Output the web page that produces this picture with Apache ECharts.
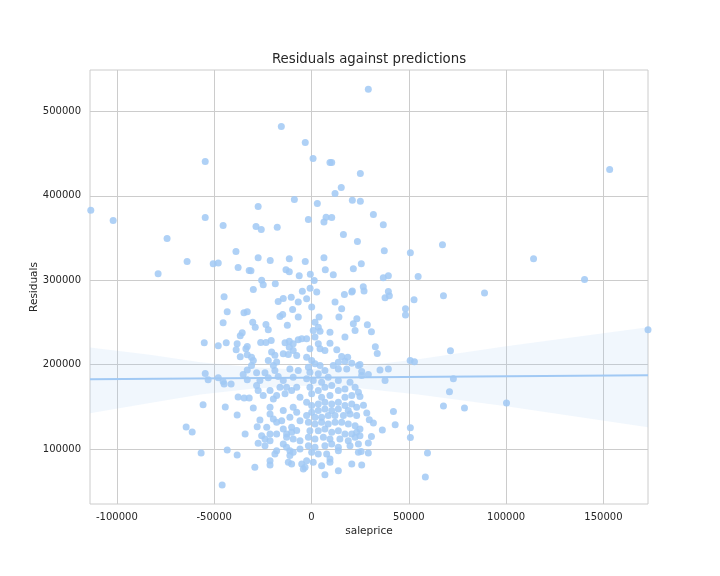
<!DOCTYPE html>
<html>
<head>
<meta charset="utf-8">
<script src="https://cdn.jsdelivr.net/npm/echarts@6/dist/echarts.min.js"></script>
<style>html,body{margin:0;padding:0;background:#fff;}#chart{width:720px;height:576px;}</style>
</head>
<body>
<div id="chart"></div>
<script>
// Scatter points: [saleprice, residual]
const points = [
[-54600,440700],[-113400,382900],[-101900,370700],[-54600,374300],[-45400,364800],[-74200,349400],[-38800,334000],[-63900,322100],[-50500,319700],[-47900,320400],[-78800,307800],[-37700,315000],[-32000,311700],
[-15500,482200],[-3200,463200],[800,444200],[9500,439500],[-8800,395600],[3000,390900],[-27400,387300],[-1600,371900],[7500,374600],[6400,369000],[-28500,363600],[-25800,360000],[-17600,362800],[-27400,326800],[-21200,323300],[-11400,325600],[-3200,322100],[6400,326800],[-31100,311400],[-13100,312600],[-11400,310200],[-6300,305500],[-600,307000],[7100,312600],[-25600,299900],[-24800,294800],[-18600,296000],[1400,299800],[-29900,289200],[-4700,287000],[-700,290500],
[29200,526100],[10400,439500],[25100,426500],[15300,409900],[12100,402700],[21000,394800],[25100,393600],[10400,374300],[31800,377800],[36900,365900],[16400,354100],[23600,345800],[37400,335100],[50800,332700],[25600,319700],[21500,313800],[11200,306600],[36900,303100],[39500,305500],[54800,304500],[26600,292400],[21000,287200],
[153200,431200],[67300,342200],[114100,325600],[140300,300900],[88900,285000],
[67800,281700],[71400,216500],[172900,241400],[72900,183300],[70900,167900],[67800,151200],[78600,148900],[100200,154800],[59600,95500],[58500,67000],
[-44900,280600],[-43300,262800],[-34700,261600],[-33000,262800],[-45400,249700],[-36600,234300],[-35600,237900],[-55100,226000],[-47900,222400],[-43800,226000],[-38200,224800],[-38700,217700],[-33700,218900],[-33000,221600],[-36600,209400],[-33000,211800],[-54600,189600],[-53100,182100],[-47900,184500],[-45400,180100],[-44900,177300],[-41300,177300],[-35100,188400],[-33000,193900],[-33000,182100],[-37700,161900],[-34600,160700],[-32000,160700],[-55700,152500],[-44300,150100],[-38200,140600],[-64400,126400],[-61300,120400],[-34100,118000],[-56700,95500],[-43300,99100],[-38200,93200],[-45900,57600],
[-17100,275000],[-14500,278500],[-10400,280000],[-6800,274200],[-9700,265500],[-16200,257200],[-14800,259600],[-6800,256400],[-12400,246900],[-30200,250300],[-28900,244500],[-23400,247700],[-22200,241400],[-26100,226300],[-23400,226300],[-20700,228700],[-13600,226000],[-11400,227900],[-9400,224800],[-6800,229500],[-5000,230700],[-11400,220800],[-9400,216800],[-14500,212900],[-11900,212100],[-7600,210900],[-20500,215200],[-18800,211100],[-17900,203200],[-22200,205000],[-19600,199100],[-30800,208900],[-29900,205000],[-30800,199100],[-28200,190400],[-23900,190400],[-22200,184500],[-26500,181300],[-28200,175400],[-18800,193200],[-17100,186000],[-14500,181300],[-16200,173300],[-12800,173300],[-13600,165500],[-17900,163500],[-21300,169400],[-19600,159400],[-10200,169400],[-5900,161500],[-7600,173300],[-9400,185200],[-6800,193200],[-11100,195100],[-27400,169400],[-24800,163500],
[2700,286000],[16900,283300],[20700,286000],[-2500,278200],[12100,274200],[15500,266300],[14100,256400],[100,268400],[3900,256400],[1800,250400],[3500,244500],[900,240600],[4400,239700],[1800,232700],[9500,238600],[21500,248400],[22400,240600],[17200,232700],[23300,254500],[-2500,230700],[-800,218900],[3500,224800],[4400,218900],[6900,216900],[9500,225500],[13000,217700],[18600,208900],[15500,209700],[13800,203000],[17200,204200],[20700,201800],[11200,199100],[13800,195100],[18100,195100],[24100,199100],[-2500,208900],[100,205000],[-1600,197100],[1800,201100],[4400,199100],[-800,191000],[3500,189200],[6900,193200],[-2500,183300],[900,181300],[5200,179300],[8600,185200],[-800,173300],[3500,169400],[6900,173300],[10400,175400],[13800,181300],[100,165500],[5200,161500],[9500,163500],[13800,169400],[17200,171400],[19800,179300],[22400,173300],[17200,161500],[20700,163500],[24100,167400],
[27000,287200],[37800,279300],[40000,281700],[39500,286800],[52700,277000],[48300,266300],[48300,258800],[28700,247300],[30800,239000],[32800,221200],[33800,213300],[50700,205000],[52900,203400],[24900,200300],[25800,192000],[29200,188400],[25800,187200],[35200,193900],[39500,195100],[37800,181300],[24900,162300],
[-29900,148900],[-21300,149600],[-21300,141800],[-19600,135800],[-26500,134600],[-27900,126700],[-23000,125900],[-25600,116000],[-21300,118000],[-23900,112100],[-27400,106900],[-23900,104200],[-21300,110100],[-17900,131800],[-17900,118000],[-14500,123900],[-15300,133800],[-11100,137800],[-14500,145700],[-9400,149600],[-7600,143700],[-5900,133800],[-10200,125900],[-12800,118000],[-10200,120000],[-7600,122000],[-12800,114000],[-9400,112100],[-5900,110100],[-14500,106200],[-12800,102200],[-11100,98300],[-9400,96300],[-5900,100200],[-17900,98300],[-18800,94400],[-11100,92400],[-11900,84400],[-10200,82600],[-21300,86400],[-21300,81400],[-29100,78500],[-5000,82600],[-4200,76600],
[-2500,155600],[100,151600],[3500,153600],[6900,155600],[10400,153600],[13800,155600],[17200,151600],[20700,153600],[23200,149600],[18900,145700],[13800,147700],[10400,145700],[6900,147700],[3500,145700],[100,143700],[-2500,139800],[1800,137800],[5200,137800],[8600,139800],[12100,139800],[16400,139800],[19800,141700],[23200,139800],[-1600,131800],[1800,129900],[5200,131800],[8600,129900],[12100,131800],[15500,131800],[18900,129900],[22400,127900],[-800,121900],[3500,121900],[6900,123900],[10400,120000],[13800,121900],[17200,118000],[20700,118000],[23200,120000],[-1600,114000],[1800,112100],[6100,114000],[9500,112100],[14600,112100],[18900,110100],[22400,114000],[24100,106100],[-1600,104200],[1800,102200],[6900,104200],[10400,106100],[13800,102200],[19800,104200],[100,96300],[3500,94300],[7800,94300],[13800,98200],[24100,96300],[-2500,86400],[900,84400],[5200,80400],[9500,88400],[9500,84400],[13800,74500],[20700,82400],[6900,69800],[-3300,78500],
[26700,151900],[28400,142900],[29700,135000],[31800,131100],[42100,144500],[36400,122800],[43000,129000],[50800,125500],[50800,113700],[24900,124000],[24900,116000],[30800,114900],[29200,107400],[25500,97400],[29200,95500],[25800,81300]
];
// Regression line endpoints
const fitX = [-113800, 172900];
const fitY = [182800, 187600];
// Confidence band
const bandX = [-113800, -83000, -57000, -31600, -5900, 19800, 54800, 100000, 172900];
const bandLow = [142500, 154800, 164800, 171200, 175100, 173200, 164900, 150800, 125900];
const bandHigh = [220500, 211800, 202800, 197200, 194100, 197000, 206500, 222000, 244500];
const xTicks = [-100000, -50000, 0, 50000, 100000, 150000];
const yTicks = [100000, 200000, 300000, 400000, 500000];

const font = 'DejaVu Sans';
const chart = echarts.init(document.getElementById('chart'), null, {renderer: 'canvas'});
const bandPoly = bandX.map((x, i) => [x, bandHigh[i]]).concat(bandX.map((x, i) => [x, bandLow[i]]).reverse());
const plain = v => String(v);

chart.setOption({
  animation: false,
  backgroundColor: '#ffffff',
  title: {
    text: 'Residuals against predictions',
    left: 364, top: 48, textAlign: 'center',
    textStyle: {fontFamily: font, fontSize: 13.3, fontWeight: 'normal', color: '#262626'}
  },
  grid: {left: 90, right: 72, top: 70, bottom: 72, show: true, borderColor: '#cccccc', borderWidth: 1, backgroundColor: 'transparent'},
  xAxis: {
    type: 'value', min: -113800, max: 172900,
    name: 'saleprice', nameLocation: 'middle', nameGap: 22, nameMoveOverlap: false,
    nameTextStyle: {fontFamily: font, fontSize: 10.5, color: '#262626'},
    axisLine: {show: false}, axisTick: {show: false, customValues: xTicks},
    axisLabel: {customValues: xTicks, formatter: plain, fontFamily: font, fontSize: 10, color: '#262626', margin: 8},
    splitLine: {show: true, lineStyle: {color: '#cccccc', width: 1}}
  },
  yAxis: {
    type: 'value', min: 35100, max: 549000,
    name: 'Residuals', nameLocation: 'middle', nameGap: 50, nameRotate: 90, nameMoveOverlap: false,
    nameTextStyle: {fontFamily: font, fontSize: 10.5, color: '#262626'},
    axisLine: {show: false}, axisTick: {show: false, customValues: yTicks},
    axisLabel: {customValues: yTicks, formatter: plain, fontFamily: font, fontSize: 10, color: '#262626', margin: 9},
    splitLine: {show: true, lineStyle: {color: '#cccccc', width: 1}}
  },
  series: [
    {
      type: 'scatter', data: points, symbolSize: 7, z: 2,
      itemStyle: {color: '#a1c9f4', opacity: 0.85}
    },
    {
      type: 'custom', z: 3, data: [0],
      renderItem: function (params, api) {
        const pts = bandPoly.map(p => api.coord(p));
        return {type: 'polygon', shape: {points: pts}, style: {fill: 'rgba(161,201,244,0.15)', stroke: null}};
      }
    },
    {
      type: 'line', z: 4, data: fitX.map((x, i) => [x, fitY[i]]), symbol: 'none',
      lineStyle: {color: '#a1c9f4', width: 2}
    }
  ]
});
</script>
</body>
</html>
